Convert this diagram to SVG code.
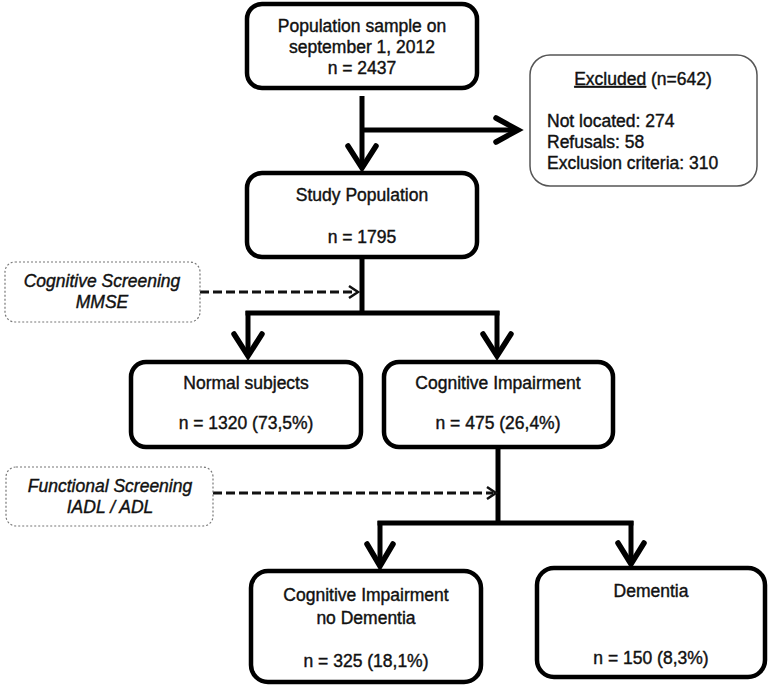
<svg xmlns="http://www.w3.org/2000/svg" width="771" height="696" viewBox="0 0 771 696">
<style>
.box{fill:#fff;stroke:#000;stroke-width:4.5}
.exc{fill:#fff;stroke:#555;stroke-width:1.5}
.dbox{fill:#fff;stroke:#777;stroke-width:1.2;stroke-dasharray:2 2}
.t,.tl,.ti{font-family:"Liberation Sans",Arial,sans-serif;font-size:17.5px;fill:#111;stroke:#111;stroke-width:0.4}
.t,.ti{text-anchor:middle}
.ti{font-style:italic}
.ln{fill:none;stroke:#000;stroke-width:5}
.ah{fill:none;stroke:#000;stroke-width:5.5;stroke-linejoin:miter;stroke-linecap:round}
.dl{fill:none;stroke:#111;stroke-width:2.8;stroke-dasharray:9 4}
.dah{fill:none;stroke:#111;stroke-width:2.5}
</style>
<g id="connectors">
<line class="ln" x1="362" y1="96" x2="362" y2="168"/>
<polyline class="ah" points="348,146 362,168 376,146"/>
<line class="ln" x1="362" y1="130" x2="517" y2="130"/>
<polyline class="ah" points="496,118 518,130 496,142"/>
<line class="ln" x1="362" y1="257" x2="362" y2="315"/>
<line class="ln" x1="245.5" y1="313" x2="499.5" y2="313"/>
<line class="ln" x1="248" y1="311" x2="248" y2="356"/>
<polyline class="ah" points="234,334 248,356 262,334"/>
<line class="ln" x1="497" y1="311" x2="497" y2="356"/>
<polyline class="ah" points="483,334 497,356 511,334"/>
<line class="ln" x1="498" y1="447" x2="498" y2="525"/>
<line class="ln" x1="377.5" y1="523" x2="633.5" y2="523"/>
<line class="ln" x1="380" y1="521" x2="380" y2="566"/>
<polyline class="ah" points="367,544 380,566 393,544"/>
<line class="ln" x1="631" y1="521" x2="631" y2="564"/>
<polyline class="ah" points="618,543 631,564 644,543"/>
<line class="dl" x1="200" y1="292" x2="356" y2="292"/>
<polyline class="dah" points="349,286 358,292 349,298"/>
<line class="dl" x1="213" y1="493" x2="493" y2="493"/>
<polyline class="dah" points="487,487 496,493 487,499"/>
</g>
<g id="population-sample">
<rect class="box" x="247" y="4" width="230" height="84" rx="15"/>
<text class="t" x="362" y="32">Population sample on</text>
<text class="t" x="362" y="53">september 1, 2012</text>
<text class="t" x="362" y="74">n = 2437</text>
</g>
<g id="excluded">
<rect class="exc" x="530" y="55" width="227" height="131" rx="20"/>
<text class="t" x="643" y="85"><tspan text-decoration="underline">Excluded</tspan> (n=642)</text>
<text class="tl" x="547" y="127">Not located: 274</text>
<text class="tl" x="547" y="148">Refusals: 58</text>
<text class="tl" x="547" y="169">Exclusion criteria: 310</text>
</g>
<g id="study-population">
<rect class="box" x="247" y="173" width="230" height="84" rx="15"/>
<text class="t" x="362" y="201">Study Population</text>
<text class="t" x="362" y="243">n = 1795</text>
</g>
<g id="cognitive-screening">
<rect class="dbox" x="5" y="262" width="195" height="60" rx="10"/>
<text class="ti" x="102" y="287">Cognitive Screening</text>
<text class="ti" x="102" y="308">MMSE</text>
</g>
<g id="normal-subjects">
<rect class="box" x="131" y="362" width="230" height="85" rx="15"/>
<text class="t" x="246" y="389">Normal subjects</text>
<text class="t" x="246" y="429">n = 1320 (73,5%)</text>
</g>
<g id="cognitive-impairment">
<rect class="box" x="384" y="362" width="229" height="85" rx="15"/>
<text class="t" x="498" y="389">Cognitive Impairment</text>
<text class="t" x="498" y="429">n = 475 (26,4%)</text>
</g>
<g id="functional-screening">
<rect class="dbox" x="6" y="467" width="207" height="59" rx="10"/>
<text class="ti" x="110" y="492">Functional Screening</text>
<text class="ti" x="110" y="513">IADL / ADL</text>
</g>
<g id="ci-no-dementia">
<rect class="box" x="251" y="571" width="230" height="111" rx="17"/>
<text class="t" x="366" y="601">Cognitive Impairment</text>
<text class="t" x="366" y="624">no Dementia</text>
<text class="t" x="366" y="667">n = 325 (18,1%)</text>
</g>
<g id="dementia">
<rect class="box" x="537" y="568" width="228" height="109" rx="17"/>
<text class="t" x="651" y="597">Dementia</text>
<text class="t" x="651" y="664">n = 150 (8,3%)</text>
</g>
</svg>
